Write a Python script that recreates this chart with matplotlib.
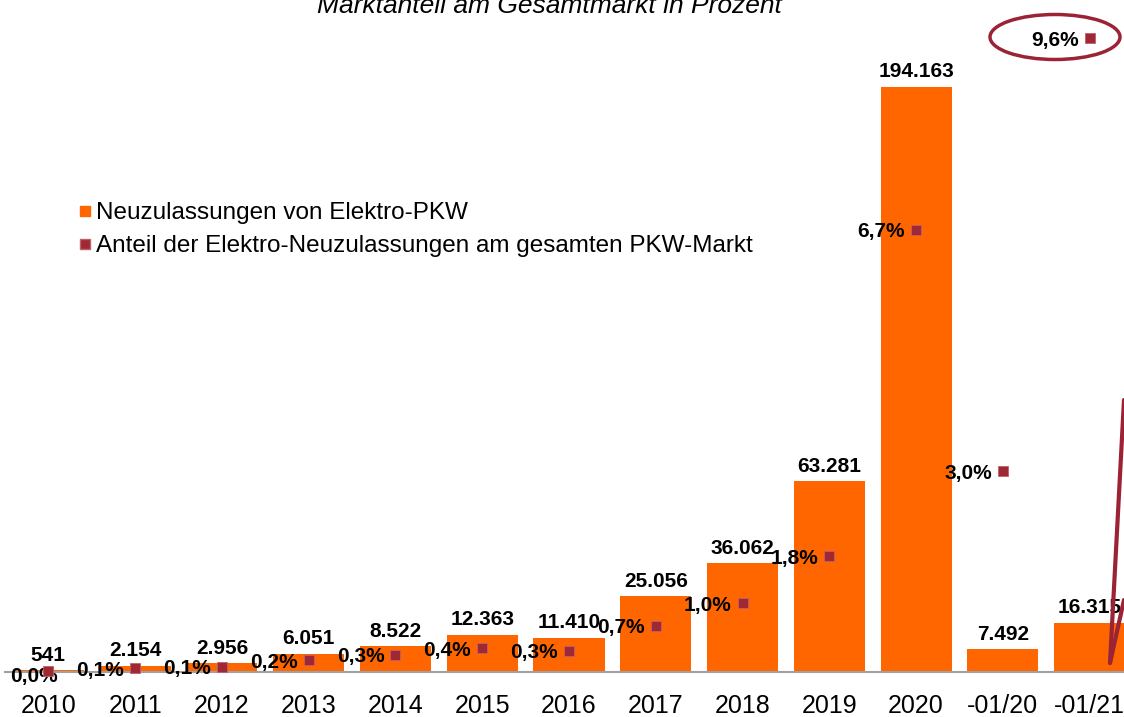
import matplotlib
matplotlib.use("Agg")
import matplotlib.pyplot as plt
from matplotlib.lines import Line2D
from matplotlib.patches import Ellipse
import numpy as np

plt.rcParams['font.family'] = ['Liberation Sans', 'DejaVu Sans']

categories = ["2010", "2011", "2012", "2013", "2014", "2015", "2016",
              "2017", "2018", "2019", "2020", "-01/20", "-01/21"]
registrations = [541, 2154, 2956, 6051, 8522, 12363, 11410,
                 25056, 36062, 63281, 194163, 7492, 16315]
share = [0.01, 0.06, 0.08, 0.18, 0.26, 0.36, 0.32,
         0.70, 1.04, 1.75, 6.70, 3.04, 9.60]

bar_color = "#ff6600"
dot_color = "#9e2833"

W, H = 1124, 717
fig = plt.figure(figsize=(W / 100, H / 100), dpi=100)

# axes: baseline at y=672px, category pitch ~86.8px
ax = fig.add_axes([5 / W, 1 - 672 / H, 1128 / W, 672 / H])
x = np.arange(len(categories))
ax.bar(x, registrations, width=0.82, color=bar_color, zorder=2)
ax.set_xlim(-0.5, len(categories) - 0.5)
ax.set_ylim(0, 223000)
ax.set_yticks([])
for s in ["top", "left", "right"]:
    ax.spines[s].set_visible(False)
ax.spines["bottom"].set_color("#a0a0a0")
ax.spines["bottom"].set_linewidth(1.5)
ax.set_xticks(x)
ax.set_xticklabels(categories, fontsize=18)
ax.tick_params(axis="x", length=0, pad=16)

for xi, v in zip(x, registrations):
    lbl = f"{v:,}".replace(",", ".")
    ax.annotate(lbl, (xi, v), xytext=(0, 4), textcoords="offset points",
                ha="center", va="bottom", fontsize=15, fontweight="bold")

ax2 = ax.twinx()
ax2.set_ylim(0, 10.18)
ax2.axis("off")
ax2.plot(x, share, linestyle="none", marker="s", markersize=7,
         markerfacecolor=dot_color, markeredgecolor="#c0606a",
         markeredgewidth=0.6, zorder=3, clip_on=False)
for i, (xi, p) in enumerate(zip(x, share)):
    lbl = f"{p:.1f}%".replace(".", ",")
    # first label sits lower, overlapping its marker
    off = (7, -3.5) if i == 0 else (-8, -1.5)
    ax2.annotate(lbl, (xi, p), xytext=off, textcoords="offset points",
                 ha="right", va="center", fontsize=15, fontweight="bold",
                 annotation_clip=False, zorder=1)

# legend
handles = [
    Line2D([], [], linestyle="none", marker="s", markersize=7,
           markerfacecolor=bar_color, markeredgecolor=bar_color),
    Line2D([], [], linestyle="none", marker="s", markersize=7,
           markerfacecolor=dot_color, markeredgecolor="#c0606a"),
]
fig.legend(handles,
           ["Neuzulassungen von Elektro-PKW",
            "Anteil der Elektro-Neuzulassungen am gesamten PKW-Markt"],
           loc="upper left", bbox_to_anchor=(67 / W, 1 - 190 / H),
           frameon=False, fontsize=17.5, handlelength=0.5, handletextpad=0.2,
           labelspacing=0.45, borderpad=0)

# title, cut off at the top
fig.text(549 / W, 1 - 13 / H, "Marktanteil am Gesamtmarkt in Prozent",
         ha="center", va="baseline", fontsize=19, style="italic")

# highlight ellipse and arrow
fig.add_artist(Ellipse((1055 / W, 1 - 37 / H), 130 / W, 45 / H,
                       transform=fig.transFigure, fill=False,
                       edgecolor="#9b2335", linewidth=2.5))
fig.add_artist(Line2D([1110 / W, 1124 / W], [1 - 663 / H, 1 - 400 / H],
                      transform=fig.transFigure, color="#9b2335",
                      linewidth=3, solid_capstyle="round"))
fig.add_artist(Line2D([1110 / W, 1124 / W], [1 - 663 / H, 1 - 600 / H],
                      transform=fig.transFigure, color="#9b2335",
                      linewidth=3, solid_capstyle="round"))

fig.savefig("out.png", dpi=100)
